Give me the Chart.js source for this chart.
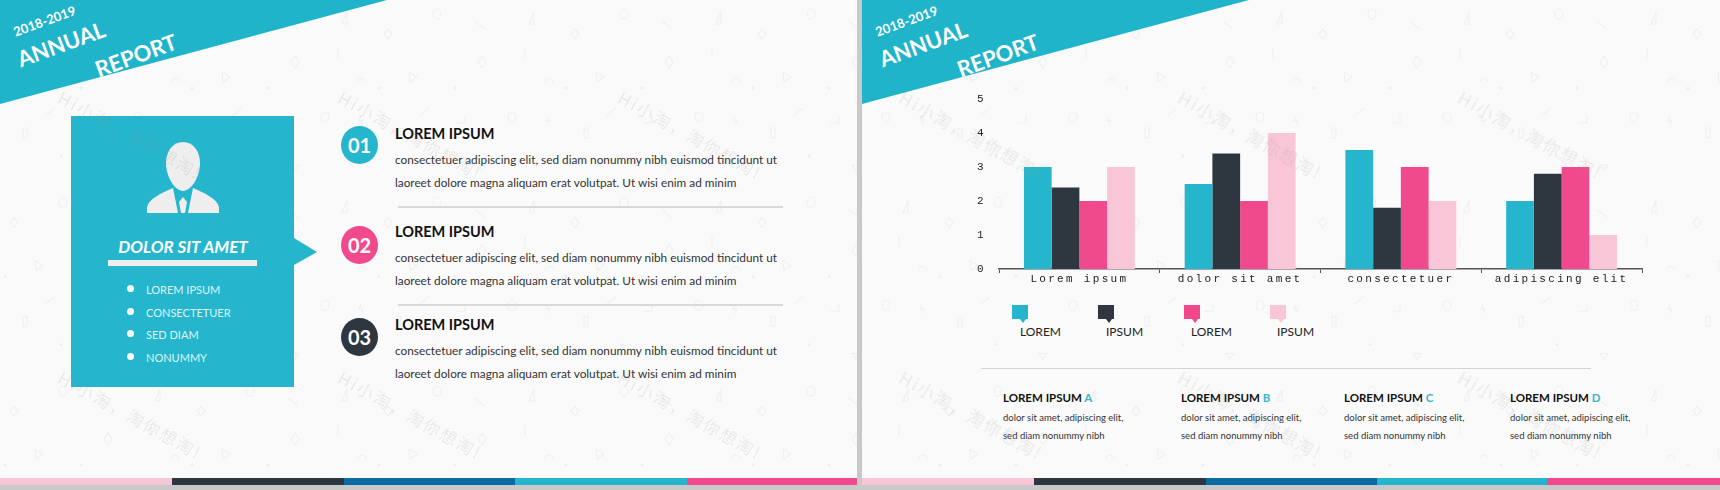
<!DOCTYPE html>
<html>
<head>
<meta charset="utf-8">
<title>Annual report</title>
<script src="https://cdn.jsdelivr.net/npm/chart.js@4"></script>
<style>
  html, body { margin: 0; padding: 0; background: #c9c9c9; }
  #page { position: relative; width: 1720px; height: 490px; overflow: hidden; font-family: Lato, sans-serif; }
  #page div, #page svg, #page canvas { position: absolute; }
  .panel { top: 0; height: 485px; background: #fafafa; }
  .t { white-space: nowrap; line-height: 1; transform: translateY(-50%); }
  .corner { top: 0; width: 387px; height: 104px; background: #1fb4ca; clip-path: polygon(0 0, 100% 0, 0 100%); }
  .banner { color: #fff; white-space: nowrap; line-height: 1; transform-origin: 0 50%; transform: rotate(-20deg); }
  .band { top: 478px; height: 7px; }
  .head { font-size: 14.5px; font-weight: 700; color: #111; }
  .body { font-size: 11.8px; color: #333; }
  .rule { height: 2px; background: #d9d9d9; }
  .num { width: 37px; height: 38px; border-radius: 50%; color: #fff; font-size: 20px; font-weight: 700; text-align: center; line-height: 38px; }
  .dot { width: 7px; height: 7px; border-radius: 50%; background: #fff; }
  .item { font-size: 11px; color: #dff3f7; }
  .swatch { width: 16px; height: 14px; }
  .notch { width: 6px; height: 4px; clip-path: polygon(0 0, 100% 0, 50% 100%); }
  .legend { font-size: 12px; color: #222; }
  .colhead { font-size: 11.5px; font-weight: 700; color: #111; }
  .colhead span { color: #3bb6cc; }
  .coltext { font-size: 9.5px; color: #333; }
  .mark { font-family: "Noto Sans CJK SC", sans-serif; font-size: 17px; letter-spacing: 2px; color: rgba(140, 140, 140, 0.16); white-space: nowrap; line-height: 1; transform-origin: 0 50%; transform: rotate(29deg); }
</style>
</head>
<body>
<div id="page">
  <div class="panel" style="left:0;width:857px"></div>
  <div class="panel" style="left:862px;width:858px"></div>
  <svg width="1720" height="485" style="left:0;top:0">
    <defs>
      <pattern id="tile" width="187" height="188.5" patternUnits="userSpaceOnUse">
        <g fill="none" stroke="#eeeeee" stroke-width="1">
          <ellipse cx="63" cy="14" rx="4" ry="5"></ellipse>
          <path d="M155 24 L160 12 L160 24 Z"></path>
          <path d="M101 21 L111 29"></path>
          <path d="M14 29 L18 34 L14 39 L10 34 Z"></path>
          <path d="M151 48 L151 58"></path>
          <path d="M108 56 L112 62 L108 68 L104 62 Z"></path>
          <path d="M171 82 A4 4 0 0 1 179 82"></path>
          <path d="M35 72 L43 77 L36 82 Z"></path>
          <path d="M45 116 L55 108"></path>
          <ellipse cx="138" cy="117" rx="4" ry="5"></ellipse>
          <path d="M91 115 L91 123 L82 123"></path>
          <rect x="23" y="128" width="4" height="10"></rect>
          <path d="M104 165 L112 165 L108 171 Z"></path>
          <path d="M174 116 L172 121 L176 120 L174 125"></path>
        </g>
        <circle cx="81" cy="88" r="1.5" fill="#eeeeee"></circle>
        <circle cx="61" cy="156" r="1.5" fill="#eeeeee"></circle>
        <circle cx="5" cy="88" r="1.5" fill="#eeeeee"></circle>
      </pattern>
    </defs>
    <rect x="0" y="0" width="857" height="485" fill="url(#tile)"></rect>
    <rect x="862" y="0" width="858" height="485" fill="url(#tile)"></rect>
  </svg>

  <div style="left:71px;top:116px;width:223px;height:271px;background:#25b6cd"></div>
  <div style="left:294px;top:238px;width:23px;height:27px;background:#25b6cd;clip-path:polygon(0 0,100% 52%,0 100%)"></div>
  <svg width="72" height="72" viewBox="0 0 72 72" style="left:147px;top:141px">
    <path d="M36 1 C46 1 53 10 53 22 C53 36 44 50 36 50 C28 50 19 36 19 22 C19 10 26 1 36 1 Z" fill="#eeeeee"></path>
    <path d="M0 72 L0 66 C2 58 14 52 26 47 L31 72 Z M72 72 L72 66 C70 58 58 52 46 47 L41 72 Z" fill="#eeeeee"></path>
    <path d="M36 56 L40 61 L38 72 L34 72 L32 61 Z" fill="#eeeeee"></path>
  </svg>
  <div class="t" style="left:71px;width:224px;top:246px;text-align:center;color:#fff;font-size:17px;font-weight:700;font-style:italic">DOLOR SIT AMET</div>
  <div style="left:108px;top:260px;width:149px;height:6px;background:#eeeeee"></div>

  <div id="texts"></div>
  <canvas id="barChart" style="left:862px;top:0"></canvas>
  <div id="marks"></div>
</div>

<script>
  var categories = ['Lorem ipsum', 'dolor sit amet', 'consectetuer', 'adipiscing elit'];
  var seriesNames = ['LOREM', 'IPSUM', 'LOREM', 'IPSUM'];
  var seriesColors = ['#25b6cd', '#2e3640', '#f04a8c', '#f8c6d6'];
  var seriesA = [3, 2.5, 3.5, 2];
  var seriesB = [2.4, 3.4, 1.8, 2.8];
  var seriesC = [2, 2, 3, 3];
  var seriesD = [3, 4, 2, 1];

  var menuItems = ['LOREM IPSUM', 'CONSECTETUER', 'SED DIAM', 'NONUMMY'];
  var menuY = [289, 312, 334, 357];
  var stepNums = ['01', '02', '03'];
  var stepColors = ['#25b6cd', '#f04a8c', '#2e3640'];
  var stepNumY = [145, 245, 337];
  var stepHeadY = [134, 232, 325];
  var stepLine1 = [160, 258, 351];
  var stepLine2 = [183, 281, 374];
  var legendSwatchX = [1012, 1098, 1184, 1270];
  var legendTextX = [1020, 1106, 1191, 1277];
  var columnX = [1003, 1181, 1344, 1510];
  var columnTags = ['A', 'B', 'C', 'D'];
  var bandColors = ['#f8c6d6', '#2e3640', '#0e6aa2', '#25b6cd', '#f04a8c'];
  var bandStarts = [0, 172, 344, 515, 687, 857];
  var bandStarts2 = [862, 1034, 1206, 1377, 1547, 1720];
  var markX = [60, 340, 620, 901, 1180, 1460];
  var markY = [87, 367];

  var host = document.getElementById('texts');

  function addDiv(cls, style, text) {
    var el = document.createElement('div');
    el.className = cls;
    el.style.cssText = style;
    if (text) el.innerHTML = text;
    host.appendChild(el);
    return el;
  }

  function addBanner(x) {
    addDiv('corner', 'left:' + x + 'px');
    addDiv('banner', 'left:' + (x + 14) + 'px;top:26px;font-size:13px;font-weight:700', '2018-2019');
    addDiv('banner', 'left:' + (x + 18) + 'px;top:49px;font-size:22px;font-weight:700', 'ANNUAL');
    addDiv('banner', 'left:' + (x + 96) + 'px;top:59px;font-size:22px;font-weight:700', 'REPORT');
  }
  addBanner(0);
  addBanner(862);

  bandColors.forEach(function (c, i) {
    addDiv('band', 'left:' + bandStarts[i] + 'px;width:' + (bandStarts[i + 1] - bandStarts[i]) + 'px;background:' + c);
    addDiv('band', 'left:' + bandStarts2[i] + 'px;width:' + (bandStarts2[i + 1] - bandStarts2[i]) + 'px;background:' + c);
  });

  menuItems.forEach(function (m, i) {
    addDiv('dot', 'left:127px;top:' + (menuY[i] - 4) + 'px');
    addDiv('t item', 'left:146px;top:' + menuY[i] + 'px', m);
  });

  stepNums.forEach(function (n, i) {
    addDiv('num', 'left:341px;top:' + (stepNumY[i] - 19) + 'px;background:' + stepColors[i], n);
    addDiv('t head', 'left:395px;top:' + stepHeadY[i] + 'px', 'LOREM IPSUM');
    addDiv('t body', 'left:395px;top:' + stepLine1[i] + 'px', 'consectetuer adipiscing elit, sed diam nonummy nibh euismod tincidunt ut');
    addDiv('t body', 'left:395px;top:' + stepLine2[i] + 'px', 'laoreet dolore magna aliquam erat volutpat. Ut wisi enim ad minim');
  });
  addDiv('rule', 'left:398px;top:206px;width:385px');
  addDiv('rule', 'left:398px;top:304px;width:385px');

  seriesNames.forEach(function (name, i) {
    addDiv('swatch', 'left:' + legendSwatchX[i] + 'px;top:305px;background:' + seriesColors[i]);
    addDiv('notch', 'left:' + (legendSwatchX[i] + 8) + 'px;top:319px;background:' + seriesColors[i]);
    addDiv('t legend', 'left:' + legendTextX[i] + 'px;top:332px', name);
  });

  addDiv('', 'left:981px;top:368px;width:610px;height:1px;background:#d4d4d4');
  columnX.forEach(function (x, i) {
    addDiv('t colhead', 'left:' + x + 'px;top:398px', 'LOREM IPSUM <span>' + columnTags[i] + '</span>');
    addDiv('t coltext', 'left:' + x + 'px;top:418px', 'dolor sit amet, adipiscing elit,');
    addDiv('t coltext', 'left:' + x + 'px;top:436px', 'sed diam nonummy nibh');
  });

  var markHost = document.getElementById('marks');
  markY.forEach(function (y) {
    markX.forEach(function (x) {
      var el = document.createElement('div');
      el.className = 'mark';
      el.style.left = x + 'px';
      el.style.top = y + 'px';
      el.textContent = 'Hi小淘，淘你想淘!';
      markHost.appendChild(el);
    });
  });

  var canvas = document.getElementById('barChart');
  canvas.width = 858;
  canvas.height = 485;

  // tick labels in the reference are wide and spaced out
  var wideLabels = {
    id: 'wideLabels',
    beforeDraw: function (chart) {
      chart.ctx.letterSpacing = '2.3px';
    },
  };

  new Chart(canvas, {
    type: 'bar',
    data: {
      labels: categories,
      datasets: [seriesA, seriesB, seriesC, seriesD].map(function (values, i) {
        return {
          label: seriesNames[i],
          data: values,
          backgroundColor: seriesColors[i],
          borderWidth: 0,
          barPercentage: 1,
          categoryPercentage: 0.69,
        };
      }),
    },
    plugins: [wideLabels],
    options: {
      responsive: false,
      animation: false,
      layout: { padding: { left: 0, right: 78, top: 99, bottom: 186 } },
      plugins: { legend: { display: false }, tooltip: { enabled: false } },
      scales: {
        x: {
          afterFit: function (scale) { scale.height = 30; },
          border: { color: '#555', width: 1.5 },
          grid: { drawOnChartArea: false, tickLength: 4, color: '#555' },
          ticks: {
            color: '#222',
            padding: -1,
            maxRotation: 0,
            font: { family: '"Liberation Mono", monospace', size: 11 },
          },
        },
        y: {
          min: 0,
          max: 5,
          afterFit: function (scale) { scale.width = 137; },
          border: { display: false },
          grid: { display: false },
          ticks: {
            stepSize: 1,
            color: '#222',
            padding: 5,
            font: { family: '"Liberation Mono", monospace', size: 11 },
          },
        },
      },
    },
  });
</script>
</body>
</html>
